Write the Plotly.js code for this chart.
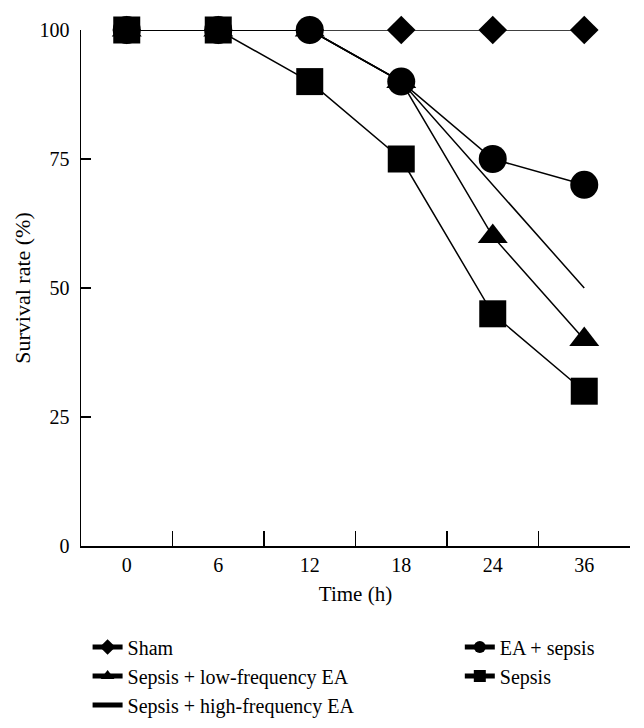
<!DOCTYPE html>
<html>
<head>
<meta charset="utf-8">
<script src="https://cdn.plot.ly/plotly-3.0.1.min.js"></script>
<style>html,body{margin:0;padding:0;background:#fff;}#chart{width:644px;height:728px;}</style>
</head>
<body>
<div id="chart"></div>
<script>
const timeLabels = ["0", "6", "12", "18", "24", "36"];
const sham = [100, 100, 100, 100, 100, 100];
const lowFreqEA = [100, 100, 100, 90, 60, 40];
const highFreqEA = [100, 100, 100, 90, 70, 50];
const eaSepsis = [100, 100, 100, 90, 75, 70];
const sepsis = [100, 100, 90, 75, 45, 30];
const yTicks = [0, 25, 50, 75, 100];

const FONT = "Liberation Serif, Times New Roman, serif";
const line = {color: "black", width: 1.5};

const traces = [
  {x: timeLabels, y: sham, name: "Sham", mode: "lines+markers", line: line,
   marker: {symbol: "diamond", size: 22, color: "black"}, legend: "legend", legendgroup: "a"},
  {x: timeLabels, y: lowFreqEA, name: "Sepsis + low-frequency EA", mode: "lines+markers", line: line,
   marker: {symbol: "triangle-up", size: 26, color: "black"}, legend: "legend", legendgroup: "b"},
  {x: timeLabels, y: highFreqEA, name: "Sepsis + high-frequency EA", mode: "lines", line: line,
   legend: "legend", legendgroup: "c"},
  {x: timeLabels, y: eaSepsis, name: "EA + sepsis", mode: "lines+markers", line: line,
   marker: {symbol: "circle", size: 28, color: "black"}, legend: "legend2", legendgroup: "d"},
  {x: timeLabels, y: sepsis, name: "Sepsis", mode: "lines+markers", line: line,
   marker: {symbol: "square", size: 27, color: "black"}, legend: "legend2", legendgroup: "e"}
];
traces.forEach(t => t.cliponaxis = false);

const legendCommon = {
  font: {family: FONT, size: 20, color: "black"},
  itemsizing: "constant", itemwidth: 30, tracegroupgap: 0,
  traceorder: "grouped", bgcolor: "rgba(0,0,0,0)",
  xanchor: "left", yanchor: "top", orientation: "v"
};

const layout = {
  width: 644, height: 728,
  margin: {l: 81, r: 14, t: 30, b: 182, autoexpand: false},
  paper_bgcolor: "white", plot_bgcolor: "white",
  font: {family: FONT, size: 20, color: "black"},
  showlegend: true,
  xaxis: {
    type: "category", range: [-0.5, 5.5], automargin: false,
    showline: true, linecolor: "black", linewidth: 1.5,
    ticks: "inside", ticklen: 15, tickwidth: 1.5, tickcolor: "black",
    tickson: "boundaries", showgrid: false, zeroline: false,
    tickfont: {family: FONT, size: 20}, ticklabelstandoff: 0,
    title: {text: "Time (h)", font: {family: FONT, size: 21}, standoff: 12}
  },
  yaxis: {
    range: [0, 100], tickvals: yTicks, ticktext: yTicks.map(String), automargin: false,
    showline: true, linecolor: "black", linewidth: 1.5,
    ticks: "inside", ticklen: 10, tickwidth: 1.5, tickcolor: "black",
    showgrid: false, zeroline: false,
    tickfont: {family: FONT, size: 20}, ticklabelstandoff: 6,
    title: {text: "Survival rate (%)", font: {family: FONT, size: 22}, standoff: 3}
  },
  legend: Object.assign({}, legendCommon, {x: 0.012, y: -0.158}),
  legend2: Object.assign({}, legendCommon, {x: 0.69, y: -0.158})
};

Plotly.newPlot("chart", traces, layout, {displayModeBar: false, staticPlot: true});
</script>
</body>
</html>
